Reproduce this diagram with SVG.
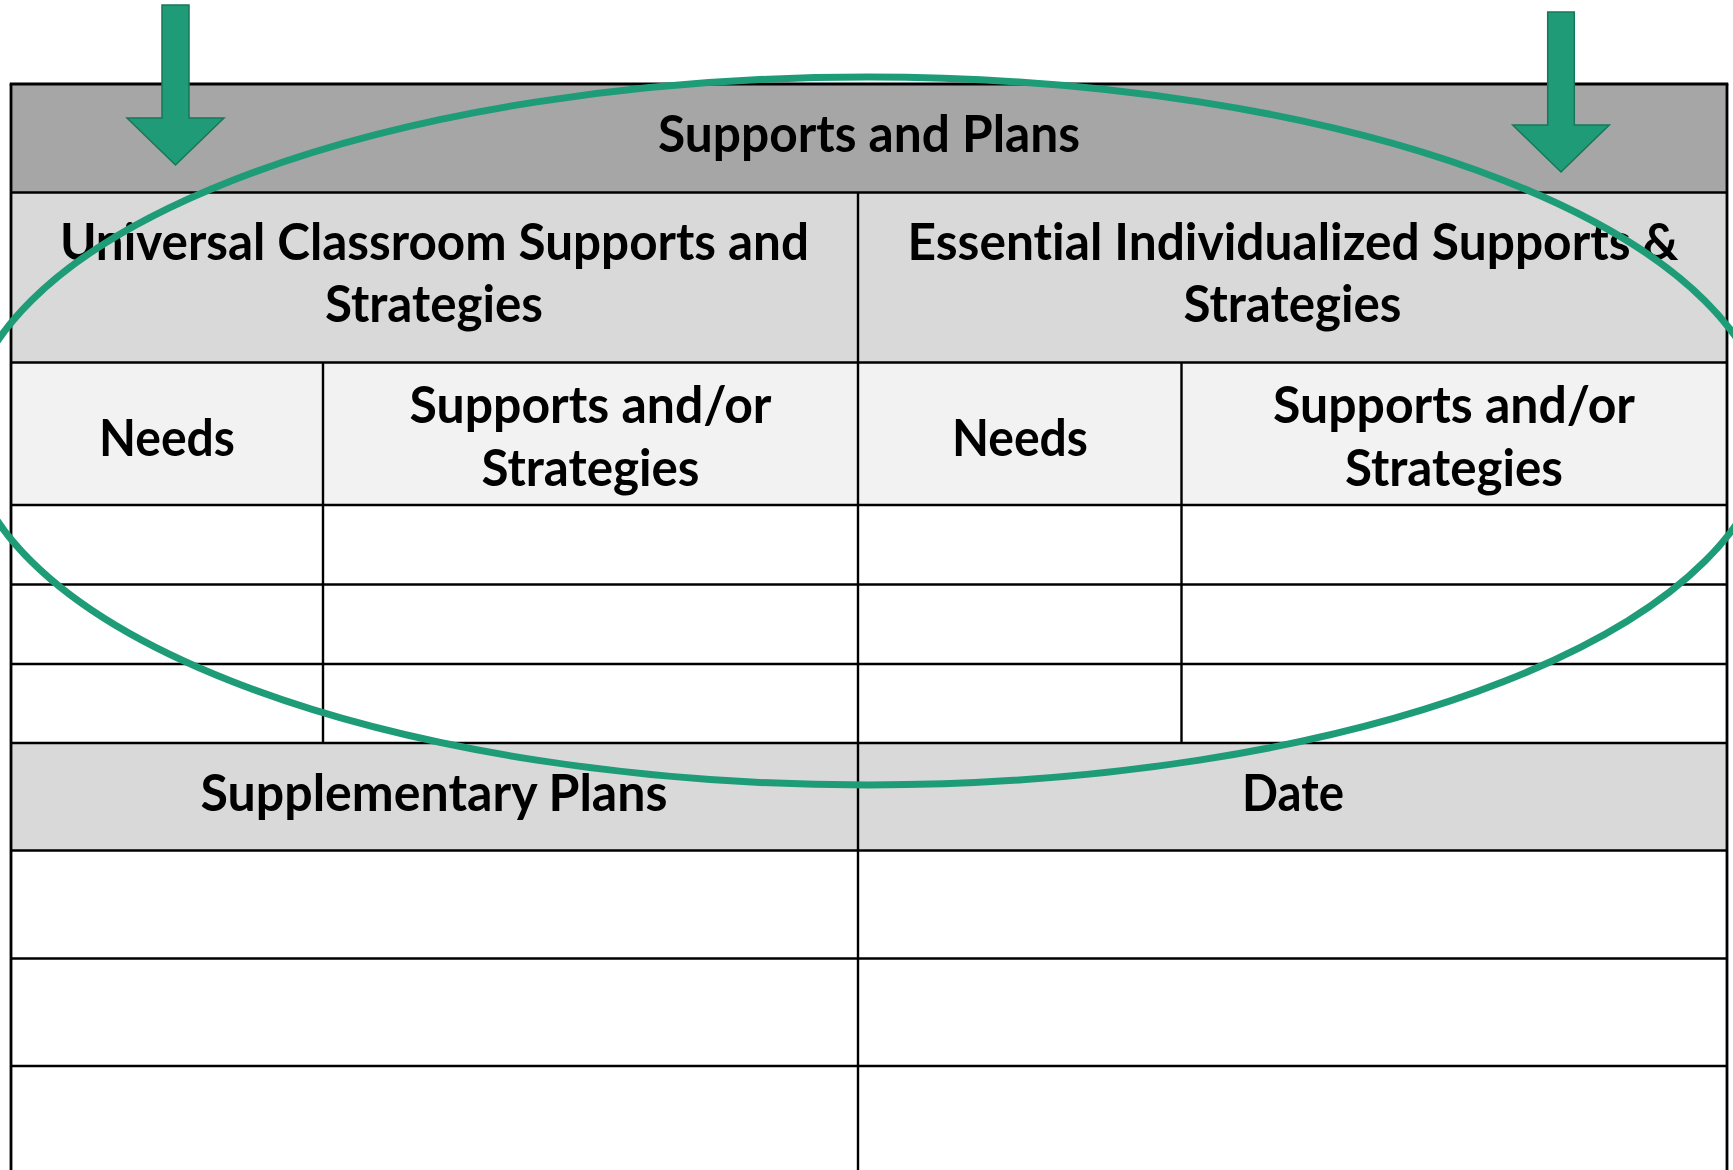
<svg xmlns="http://www.w3.org/2000/svg" width="1733" height="1170" viewBox="0 0 1733 1170">
  <style>
    .t { font-family: Lato, "Open Sans", "Liberation Sans", sans-serif; font-weight: 700; font-size: 51px; fill: #000; text-anchor: middle; font-variant-ligatures: none; font-feature-settings: "liga" 0, "clig" 0; }
    .ln { stroke: #000; stroke-width: 2.4; fill: none; }
    .arrow { fill: #1F9B77; stroke: #17775A; stroke-width: 1.5; }
  </style>
  <rect x="0" y="0" width="1733" height="1170" fill="#FFFFFF"/>

  <g id="header">
    <rect x="11" y="84" width="1716" height="108.5" fill="#A6A6A6"/>
    <text class="t" x="869" y="152" textLength="422" lengthAdjust="spacingAndGlyphs">Supports and Plans</text>
  </g>
  <g id="universal">
    <rect x="11" y="192.5" width="847" height="170" fill="#D9D9D9"/>
    <text class="t" x="434.5" y="260" textLength="749" lengthAdjust="spacingAndGlyphs">Universal Classroom Supports and</text>
    <text class="t" x="434" y="322" textLength="218" lengthAdjust="spacingAndGlyphs">Strategies</text>
  </g>
  <g id="essential">
    <rect x="858" y="192.5" width="869" height="170" fill="#D9D9D9"/>
    <text class="t" x="1293" y="260" textLength="771" lengthAdjust="spacingAndGlyphs">Essential Individualized Supports &amp;</text>
    <text class="t" x="1292.5" y="322" textLength="218" lengthAdjust="spacingAndGlyphs">Strategies</text>
  </g>
  <g id="needs-left">
    <rect x="11" y="362.5" width="312" height="142.5" fill="#F2F2F2"/>
    <text class="t" x="167" y="455.5" textLength="136" lengthAdjust="spacingAndGlyphs">Needs</text>
  </g>
  <g id="supports-left">
    <rect x="323" y="362.5" width="535" height="142.5" fill="#F2F2F2"/>
    <text class="t" x="590.5" y="422.5" textLength="362" lengthAdjust="spacingAndGlyphs">Supports and/or</text>
    <text class="t" x="590.5" y="485.5" textLength="218" lengthAdjust="spacingAndGlyphs">Strategies</text>
  </g>
  <g id="needs-right">
    <rect x="858" y="362.5" width="323.5" height="142.5" fill="#F2F2F2"/>
    <text class="t" x="1020" y="455.5" textLength="136" lengthAdjust="spacingAndGlyphs">Needs</text>
  </g>
  <g id="supports-right">
    <rect x="1181.5" y="362.5" width="545.5" height="142.5" fill="#F2F2F2"/>
    <text class="t" x="1454" y="422.5" textLength="362" lengthAdjust="spacingAndGlyphs">Supports and/or</text>
    <text class="t" x="1454" y="485.5" textLength="218" lengthAdjust="spacingAndGlyphs">Strategies</text>
  </g>
  <g id="supplementary">
    <rect x="11" y="743" width="847" height="107.5" fill="#D9D9D9"/>
    <text class="t" x="434" y="810.5" textLength="467" lengthAdjust="spacingAndGlyphs">Supplementary Plans</text>
  </g>
  <g id="date">
    <rect x="858" y="743" width="869" height="107.5" fill="#D9D9D9"/>
    <text class="t" x="1293" y="810.5" textLength="102" lengthAdjust="spacingAndGlyphs">Date</text>
  </g>

  <g id="grid-lines">
    <line class="ln" x1="9.7" y1="84" x2="1728.3" y2="84" style="stroke-width:2.8"/>
    <line class="ln" x1="11" y1="192.5" x2="1727" y2="192.5"/>
    <line class="ln" x1="11" y1="362.5" x2="1727" y2="362.5"/>
    <line class="ln" x1="11" y1="505" x2="1727" y2="505"/>
    <line class="ln" x1="11" y1="584.5" x2="1727" y2="584.5"/>
    <line class="ln" x1="11" y1="664" x2="1727" y2="664"/>
    <line class="ln" x1="11" y1="743" x2="1727" y2="743"/>
    <line class="ln" x1="11" y1="850.5" x2="1727" y2="850.5"/>
    <line class="ln" x1="11" y1="958.5" x2="1727" y2="958.5"/>
    <line class="ln" x1="11" y1="1066" x2="1727" y2="1066"/>
    <line class="ln" x1="11" y1="84" x2="11" y2="1170" style="stroke-width:2.8"/>
    <line class="ln" x1="1727" y1="84" x2="1727" y2="1170" style="stroke-width:2.8"/>
    <line class="ln" x1="858" y1="192.5" x2="858" y2="1170"/>
    <line class="ln" x1="323" y1="362.5" x2="323" y2="743"/>
    <line class="ln" x1="1181.5" y1="362.5" x2="1181.5" y2="743"/>
  </g>

  <g id="highlight-ellipse">
    <ellipse cx="868" cy="431" rx="900" ry="354" fill="none" stroke="#1E9C77" stroke-width="7"/>
  </g>

  <g id="arrow-left">
    <polygon class="arrow" points="162,5 189,5 189,118 224,118 175.5,165 127,118 162,118"/>
  </g>
  <g id="arrow-right">
    <polygon class="arrow" points="1547.7,12 1574.3,12 1574.3,125 1609.3,125 1561,172 1512.7,125 1547.7,125"/>
  </g>
</svg>
